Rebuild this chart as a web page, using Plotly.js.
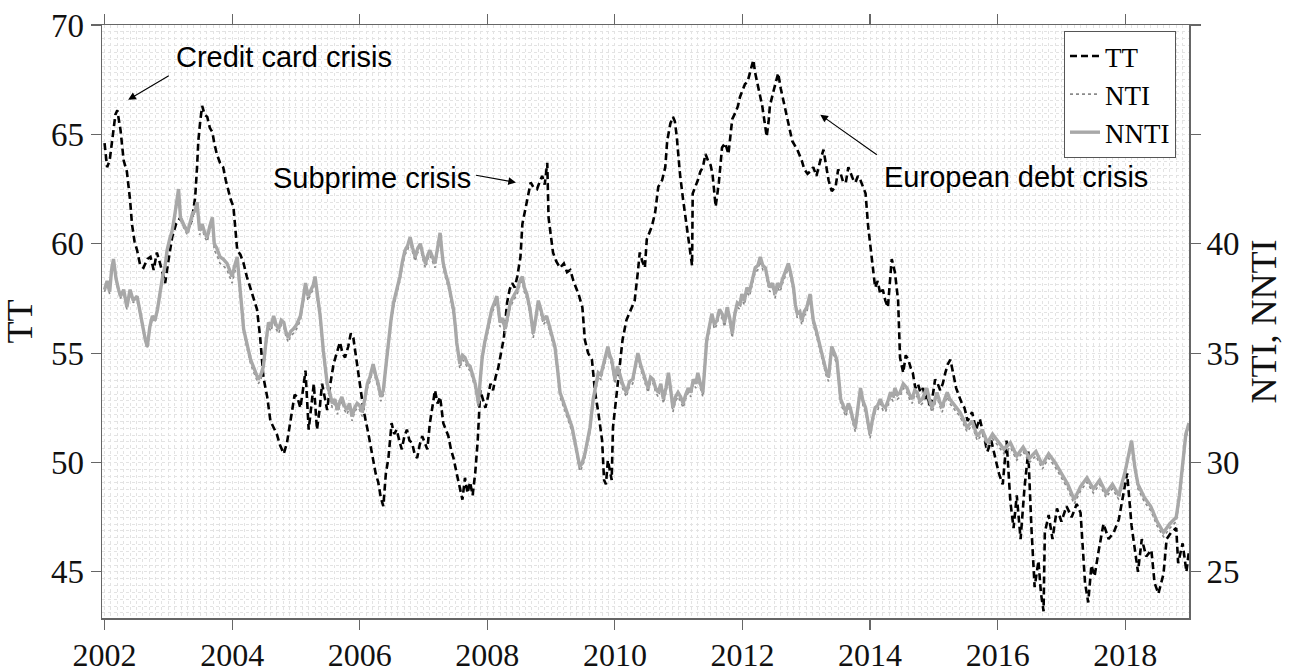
<!DOCTYPE html>
<html>
<head>
<meta charset="utf-8">
<script src="https://cdn.plot.ly/plotly-3.0.1.min.js"></script>
<style>
  html, body { margin: 0; padding: 0; background: #fff; }
  #chart { width: 1298px; height: 672px; }
</style>
</head>
<body>
<div id="chart"></div>
<script>
// TT index (left axis)
const ttYears = [
  2002.00,2002.04,2002.08,2002.12,2002.17,2002.20,2002.25,2002.30,2002.35,2002.40,
  2002.43,2002.47,2002.51,2002.56,2002.61,2002.67,2002.72,2002.77,2002.82,2002.87,
  2002.91,2002.95,2003.00,2003.06,2003.12,2003.19,2003.25,2003.30,2003.37,2003.42,
  2003.45,2003.47,2003.50,2003.53,2003.57,2003.61,2003.65,2003.69,2003.72,2003.76,
  2003.81,2003.86,2003.90,2003.94,2003.98,2004.02,2004.05,2004.08,2004.13,2004.18,
  2004.23,2004.28,2004.33,2004.39,2004.44,2004.49,2004.55,2004.60,2004.65,2004.70,
  2004.75,2004.81,2004.86,2004.90,2004.94,2004.98,2005.02,2005.07,2005.11,2005.15,
  2005.20,2005.24,2005.28,2005.33,2005.37,2005.41,2005.45,2005.49,2005.54,2005.59,
  2005.64,2005.69,2005.73,2005.77,2005.82,2005.86,2005.90,2005.96,2006.01,2006.06,
  2006.13,2006.17,2006.21,2006.25,2006.29,2006.33,2006.37,2006.41,2006.45,2006.50,
  2006.54,2006.58,2006.62,2006.66,2006.70,2006.74,2006.78,2006.82,2006.86,2006.90,
  2006.94,2006.98,2007.02,2007.06,2007.10,2007.14,2007.18,2007.22,2007.26,2007.31,
  2007.35,2007.39,2007.43,2007.47,2007.52,2007.57,2007.61,2007.65,2007.69,2007.73,
  2007.77,2007.81,2007.85,2007.89,2007.93,2007.97,2008.01,2008.05,2008.09,2008.13,
  2008.17,2008.20,2008.26,2008.31,2008.35,2008.39,2008.43,2008.47,2008.52,2008.55,
  2008.60,2008.64,2008.68,2008.72,2008.78,2008.83,2008.86,2008.90,2008.94,2008.96,
  2008.98,2009.03,2009.08,2009.14,2009.20,2009.25,2009.30,2009.35,2009.43,2009.49,
  2009.53,2009.58,2009.64,2009.69,2009.74,2009.80,2009.83,2009.86,2009.89,2009.95,
  2009.97,2010.03,2010.07,2010.12,2010.18,2010.26,2010.31,2010.36,2010.39,2010.43,
  2010.47,2010.50,2010.54,2010.58,2010.63,2010.68,2010.74,2010.79,2010.82,2010.87,
  2010.91,2010.94,2010.97,2011.02,2011.07,2011.13,2011.18,2011.21,2011.22,2011.26,
  2011.30,2011.34,2011.38,2011.42,2011.46,2011.50,2011.53,2011.58,2011.63,2011.68,
  2011.73,2011.78,2011.84,2011.89,2011.93,2011.96,2012.00,2012.04,2012.08,2012.12,
  2012.17,2012.20,2012.24,2012.28,2012.31,2012.35,2012.38,2012.41,2012.43,2012.48,
  2012.52,2012.56,2012.60,2012.64,2012.68,2012.72,2012.78,2012.82,2012.86,2012.93,
  2012.97,2013.02,2013.06,2013.11,2013.16,2013.22,2013.27,2013.31,2013.35,2013.40,
  2013.46,2013.50,2013.54,2013.58,2013.62,2013.66,2013.70,2013.74,2013.77,2013.81,
  2013.85,2013.89,2013.93,2013.97,2014.03,2014.08,2014.12,2014.16,2014.20,2014.24,
  2014.28,2014.31,2014.34,2014.39,2014.44,2014.47,2014.52,2014.56,2014.60,2014.64,
  2014.67,2014.71,2014.75,2014.79,2014.83,2014.87,2014.90,2014.94,2014.98,2015.02,
  2015.06,2015.10,2015.14,2015.18,2015.22,2015.26,2015.30,2015.35,2015.40,2015.44,
  2015.48,2015.53,2015.60,2015.66,2015.72,2015.78,2015.84,2015.90,2015.96,2016.02,
  2016.08,2016.14,2016.20,2016.25,2016.30,2016.36,2016.42,2016.48,2016.53,2016.58,
  2016.64,2016.68,2016.72,2016.74,2016.80,2016.86,2016.93,2017.00,2017.08,2017.16,
  2017.24,2017.30,2017.37,2017.42,2017.47,2017.52,2017.58,2017.66,2017.74,2017.82,
  2017.90,2017.96,2018.03,2018.10,2018.15,2018.20,2018.26,2018.33,2018.41,2018.46,
  2018.52,2018.60,2018.65,2018.72,2018.80,2018.83,2018.90,2018.96,2019.00
];
const ttValues = [
  64.6,63.5,63.8,64.8,65.9,66.1,65.2,63.8,63.3,62.0,
  60.9,60.1,59.7,59.0,58.9,59.3,59.4,58.8,59.6,59.1,
  58.7,58.2,59.2,60.3,60.9,61.2,60.8,60.6,61.1,62.1,
  63.5,64.7,65.6,66.3,65.9,65.8,65.3,65.1,64.6,64.1,
  63.7,63.5,62.9,62.4,62.0,61.7,60.6,59.7,59.5,59.1,
  58.5,58.0,57.6,57.0,55.7,53.9,53.0,51.9,51.6,51.3,
  50.8,50.4,50.9,51.6,52.4,53.1,53.0,52.5,53.3,54.2,
  51.5,52.6,53.6,51.5,52.4,53.6,53.0,52.4,53.6,54.5,
  55.0,55.5,55.0,54.8,55.3,55.9,55.7,54.5,53.6,52.4,
  51.4,50.8,50.2,49.5,49.1,48.4,48.0,49.5,50.2,51.8,
  51.3,51.5,51.0,50.6,51.2,51.5,51.0,50.9,50.4,50.2,
  50.8,51.2,50.9,50.6,51.8,52.6,53.3,52.7,53.0,51.8,
  51.5,51.2,50.6,50.2,49.5,48.9,48.3,49.3,48.6,49.1,
  48.5,49.5,51.0,53.3,52.9,52.5,53.0,53.6,53.3,53.9,
  54.3,54.8,55.7,57.3,57.9,58.2,58.0,58.5,59.4,60.9,
  61.7,62.3,62.8,62.6,62.5,62.9,63.1,62.7,63.7,61.2,
  60.8,59.6,59.2,58.9,59.1,58.7,58.8,58.3,57.7,57.1,
  55.6,55.0,54.7,53.2,52.3,51.0,49.2,49.0,50.1,49.2,
  51.6,53.3,54.4,55.6,56.5,57.1,57.4,58.7,59.6,59.2,
  58.9,60.2,60.5,60.8,61.4,62.6,62.9,63.5,64.7,65.5,
  65.8,65.6,64.9,63.2,62.0,60.8,59.6,59.0,62.3,62.6,
  62.9,63.3,63.5,64.1,63.8,63.6,63.2,61.7,62.8,64.4,
  64.6,64.1,65.7,66.0,66.3,66.7,67.0,67.3,67.4,67.8,
  68.4,67.8,67.3,66.8,66.3,65.5,64.9,65.6,66.3,66.9,
  67.4,67.8,67.1,66.6,66.0,65.5,64.7,64.5,64.3,63.8,
  63.4,63.2,63.3,63.5,63.1,63.8,64.3,63.6,62.9,62.4,
  62.6,63.4,63.2,62.8,62.8,63.5,63.2,62.9,62.8,63.1,
  62.9,62.6,62.3,60.8,59.3,58.0,58.3,57.7,57.9,57.4,
  57.1,58.1,59.3,58.7,57.4,54.8,54.1,54.9,54.7,54.3,
  54.1,53.4,53.6,53.2,53.4,52.9,53.1,52.5,53.0,53.8,
  53.6,53.3,53.6,54.1,54.5,54.7,54.1,53.4,53.0,52.7,
  52.5,51.9,52.3,51.5,52.0,51.2,50.5,51.0,50.2,49.5,
  49.0,51.0,48.2,47.0,48.5,46.5,48.8,50.5,47.0,44.3,
  45.5,44.0,43.2,46.8,47.6,46.5,47.9,47.3,48.0,47.5,
  48.1,47.7,44.5,43.6,45.3,44.8,45.9,47.2,46.5,46.8,
  47.4,48.4,49.5,47.1,46.0,45.0,46.5,45.7,46.0,44.5,
  44.0,44.9,46.5,46.8,47.0,45.4,46.3,45.0,46.0
];

// NNTI and NTI (right axis), sampled on the same dates
const nntiYears = [
  2002.00,2002.04,2002.08,2002.11,2002.14,2002.18,2002.22,2002.25,2002.30,2002.35,
  2002.40,2002.45,2002.51,2002.56,2002.61,2002.64,2002.67,2002.71,2002.75,2002.79,
  2002.83,2002.87,2002.91,2002.95,2002.98,2003.02,2003.06,2003.10,2003.13,2003.16,
  2003.19,2003.23,2003.27,2003.30,2003.34,2003.38,2003.42,2003.45,2003.49,2003.53,
  2003.57,2003.61,2003.65,2003.69,2003.72,2003.76,2003.81,2003.86,2003.92,2003.96,
  2004.00,2004.04,2004.08,2004.10,2004.13,2004.16,2004.18,2004.22,2004.25,2004.29,
  2004.33,2004.37,2004.41,2004.45,2004.49,2004.53,2004.57,2004.61,2004.65,2004.69,
  2004.73,2004.77,2004.81,2004.84,2004.88,2004.92,2004.96,2005.01,2005.07,2005.11,
  2005.15,2005.19,2005.23,2005.27,2005.30,2005.34,2005.38,2005.43,2005.46,2005.49,
  2005.53,2005.57,2005.61,2005.65,2005.69,2005.72,2005.76,2005.80,2005.84,2005.88,
  2005.92,2005.96,2006.00,2006.04,2006.08,2006.12,2006.16,2006.21,2006.25,2006.29,
  2006.33,2006.37,2006.41,2006.45,2006.49,2006.53,2006.58,2006.63,2006.67,2006.71,
  2006.75,2006.79,2006.83,2006.87,2006.91,2006.95,2006.99,2007.03,2007.07,2007.10,
  2007.14,2007.18,2007.22,2007.26,2007.29,2007.31,2007.35,2007.39,2007.43,2007.47,
  2007.50,2007.52,2007.57,2007.61,2007.65,2007.69,2007.73,2007.77,2007.81,2007.84,
  2007.86,2007.89,2007.92,2007.96,2008.00,2008.04,2008.07,2008.11,2008.15,2008.20,
  2008.24,2008.28,2008.32,2008.36,2008.41,2008.47,2008.51,2008.55,2008.58,2008.62,
  2008.67,2008.72,2008.76,2008.80,2008.84,2008.88,2008.93,2008.98,2009.02,2009.06,
  2009.10,2009.14,2009.20,2009.25,2009.29,2009.33,2009.37,2009.41,2009.45,2009.49,
  2009.53,2009.57,2009.61,2009.66,2009.70,2009.74,2009.78,2009.81,2009.85,2009.89,
  2009.92,2009.95,2010.00,2010.04,2010.07,2010.12,2010.18,2010.23,2010.28,2010.32,
  2010.36,2010.40,2010.44,2010.48,2010.52,2010.56,2010.60,2010.64,2010.68,2010.72,
  2010.76,2010.80,2010.84,2010.88,2010.91,2010.95,2010.99,2011.03,2011.07,2011.11,
  2011.15,2011.19,2011.23,2011.27,2011.30,2011.34,2011.38,2011.41,2011.44,2011.48,
  2011.52,2011.56,2011.60,2011.64,2011.68,2011.72,2011.76,2011.80,2011.84,2011.88,
  2011.92,2011.96,2011.99,2012.03,2012.07,2012.11,2012.15,2012.20,2012.24,2012.28,
  2012.32,2012.36,2012.40,2012.43,2012.47,2012.51,2012.55,2012.59,2012.63,2012.67,
  2012.72,2012.76,2012.80,2012.83,2012.86,2012.90,2012.93,2012.97,2013.01,2013.06,
  2013.09,2013.11,2013.15,2013.19,2013.23,2013.27,2013.31,2013.35,2013.40,2013.44,
  2013.48,2013.51,2013.54,2013.58,2013.62,2013.66,2013.69,2013.73,2013.77,2013.81,
  2013.85,2013.89,2013.93,2013.97,2014.00,2014.04,2014.08,2014.12,2014.16,2014.20,
  2014.24,2014.28,2014.32,2014.36,2014.39,2014.43,2014.47,2014.52,2014.58,2014.62,
  2014.66,2014.70,2014.74,2014.78,2014.82,2014.86,2014.89,2014.93,2014.97,2015.01,
  2015.05,2015.09,2015.13,2015.17,2015.21,2015.25,2015.30,2015.35,2015.41,2015.46,
  2015.52,2015.60,2015.68,2015.76,2015.84,2015.92,2016.00,2016.10,2016.20,2016.30,
  2016.40,2016.50,2016.60,2016.70,2016.80,2016.90,2017.00,2017.10,2017.20,2017.30,
  2017.40,2017.50,2017.60,2017.70,2017.80,2017.90,2018.00,2018.05,2018.10,2018.15,
  2018.20,2018.30,2018.40,2018.50,2018.60,2018.70,2018.80,2018.85,2018.90,2018.95,
  2019.00
];
const nntiValues = [
  37.9,38.3,37.8,38.8,39.3,38.4,37.9,37.6,37.9,37.1,
  37.9,37.4,37.6,36.8,36.1,35.6,35.3,36.2,36.7,36.5,
  37.0,37.8,38.5,39.0,39.7,40.2,40.6,41.3,41.8,42.5,
  41.2,40.9,40.7,40.5,40.9,41.4,41.5,41.9,40.6,40.9,
  40.5,40.3,40.8,41.2,40.0,39.8,39.4,39.3,39.1,38.8,
  38.5,39.0,39.4,38.7,37.9,36.8,36.1,35.6,35.1,34.7,
  34.4,34.1,33.8,34.0,34.4,35.5,36.4,36.2,36.7,36.3,
  36.1,36.5,36.4,36.0,35.7,36.0,36.1,36.3,36.7,37.4,
  38.2,37.6,37.9,38.1,38.5,37.5,36.7,35.1,34.3,33.6,
  33.2,32.7,32.9,32.4,32.8,33.0,32.6,32.4,32.7,32.1,
  32.5,32.7,32.6,32.3,32.9,33.6,33.9,34.5,34.0,33.6,
  33.0,33.3,34.4,35.5,36.5,37.3,37.9,38.5,39.2,39.7,
  39.9,40.3,39.8,39.4,39.8,40.0,39.5,39.1,39.5,39.7,
  39.4,39.1,39.8,40.5,39.6,39.1,38.6,38.2,37.6,37.0,
  36.2,35.5,34.5,34.9,34.8,34.5,34.4,34.0,33.6,33.1,
  32.7,33.8,34.8,35.5,36.1,36.6,37.0,37.3,37.6,36.4,
  36.6,36.1,36.8,37.3,37.6,37.9,38.3,38.5,38.0,37.7,
  37.0,35.9,36.6,37.4,37.0,36.5,36.7,36.2,35.8,35.3,
  34.3,33.2,32.7,32.3,32.0,31.6,31.0,30.4,29.8,30.0,
  30.4,31.0,31.6,32.9,33.6,34.1,34.0,34.4,34.8,35.3,
  34.9,34.7,33.8,34.4,34.1,33.6,33.2,33.7,33.8,34.4,
  35.0,34.5,34.1,33.8,33.4,33.9,33.8,33.4,33.2,33.6,
  32.9,33.4,34.1,33.2,32.5,33.0,33.2,33.0,32.7,33.1,
  33.4,33.2,33.8,33.6,34.1,33.6,33.2,34.4,35.6,36.2,
  36.8,36.3,36.5,37.0,36.8,36.4,37.1,36.6,35.9,36.8,
  37.3,37.2,37.7,37.4,38.0,37.8,38.3,38.9,39.0,39.4,
  39.0,38.9,38.3,38.0,38.2,37.7,38.2,38.0,38.4,38.7,
  39.1,38.6,38.0,37.2,36.8,36.9,36.5,36.9,37.1,37.7,
  37.0,36.5,36.1,35.6,35.2,34.7,34.2,33.9,35.3,35.0,
  34.7,33.8,32.9,32.6,32.3,32.7,32.5,32.0,31.6,32.5,
  33.4,32.8,32.5,31.8,31.3,32.0,32.5,32.6,32.9,32.6,
  32.5,32.8,33.2,33.0,33.4,33.1,33.2,33.6,33.4,33.1,
  32.9,33.3,33.2,32.8,32.9,33.2,33.4,32.9,32.5,32.8,
  33.2,32.8,32.5,32.9,33.2,32.9,32.7,32.5,32.3,32.0,
  31.6,31.9,31.2,31.5,30.9,31.3,31.0,30.6,30.9,30.3,
  30.7,30.2,30.5,29.9,30.4,30.0,29.5,29.0,28.3,28.9,
  29.3,28.8,29.2,28.6,29.0,28.5,29.6,30.4,31.0,29.8,
  29.0,28.4,28.0,27.3,26.8,27.2,27.5,28.5,29.8,31.3,
  31.8
];
const ntiValues = [
  37.8,38.2,37.7,38.7,39.2,38.3,37.8,37.5,37.8,37.0,
  37.8,37.3,37.5,36.7,36.0,35.5,35.2,36.1,36.6,36.4,
  36.9,37.7,38.4,38.9,39.6,40.1,40.5,41.2,41.7,42.4,
  41.1,40.8,40.6,40.4,40.8,41.3,41.4,41.8,40.4,40.7,
  40.3,40.1,40.6,41.0,39.7,39.5,39.1,39.0,38.8,38.5,
  38.2,38.7,39.1,38.4,37.6,36.6,35.9,35.4,34.9,34.5,
  34.2,33.9,33.6,33.8,34.2,35.3,36.2,36.0,36.5,36.1,
  35.9,36.3,36.2,35.8,35.5,35.8,35.9,36.1,36.5,37.2,
  38.0,37.4,37.7,37.9,38.3,37.3,36.5,34.9,34.1,33.4,
  33.0,32.5,32.7,32.2,32.6,32.8,32.4,32.2,32.5,31.9,
  32.3,32.5,32.4,32.1,32.7,33.4,33.7,34.3,33.8,33.4,
  32.8,33.1,34.2,35.3,36.3,37.1,37.7,38.3,39.0,39.5,
  39.7,40.1,39.6,39.2,39.6,39.8,39.3,38.9,39.3,39.5,
  39.2,38.9,39.6,40.3,39.4,38.9,38.4,38.0,37.4,36.8,
  36.0,35.3,34.3,34.7,34.6,34.3,34.2,33.8,33.4,32.9,
  32.5,33.6,34.6,35.3,35.9,36.4,36.8,37.1,37.4,36.2,
  36.4,35.9,36.6,37.1,37.4,37.7,38.1,38.3,37.8,37.5,
  36.8,35.7,36.4,37.2,36.8,36.3,36.5,36.0,35.6,35.1,
  34.1,33.0,32.5,32.1,31.8,31.4,30.8,30.2,29.6,29.8,
  30.2,30.8,31.4,32.7,33.4,33.9,33.8,34.2,34.6,35.1,
  34.7,34.5,33.6,34.2,33.9,33.4,33.0,33.5,33.6,34.2,
  34.8,34.3,33.9,33.6,33.2,33.7,33.6,33.2,33.0,33.4,
  32.7,33.2,33.9,33.0,32.3,32.8,33.0,32.8,32.5,32.9,
  33.2,33.0,33.6,33.4,33.9,33.4,33.0,34.2,35.4,36.0,
  36.6,36.1,36.3,36.8,36.6,36.2,36.9,36.4,35.7,36.6,
  37.1,37.0,37.5,37.2,37.8,37.6,38.1,38.7,38.8,39.2,
  38.8,38.7,38.1,37.8,38.0,37.5,38.0,37.8,38.2,38.5,
  38.9,38.4,37.8,37.0,36.6,36.7,36.3,36.7,36.9,37.5,
  36.8,36.3,35.9,35.4,35.0,34.5,34.0,33.7,35.1,34.8,
  34.5,33.6,32.7,32.4,32.1,32.5,32.3,31.8,31.4,32.3,
  33.2,32.6,32.3,31.6,31.1,31.8,32.3,32.4,32.7,32.4,
  32.3,32.6,33.0,32.8,33.2,32.9,33.0,33.4,33.2,32.9,
  32.7,33.1,33.0,32.6,32.7,33.0,33.2,32.7,32.3,32.6,
  33.0,32.6,32.3,32.7,33.0,32.7,32.5,32.3,32.1,31.8,
  31.4,31.7,31.0,31.3,30.7,31.1,30.8,30.4,30.7,30.1,
  30.5,30.0,30.3,29.7,30.2,29.8,29.3,28.8,28.1,28.7,
  29.1,28.6,29.0,28.4,28.8,28.3,29.4,30.2,30.8,29.6,
  28.8,28.2,27.8,27.1,26.6,27.0,27.3,28.3,29.6,31.1,
  31.6
];

const seriesNames = ['TT', 'NTI', 'NNTI'];
const leftTicks = [45, 50, 55, 60, 65, 70];
const rightTicks = [25, 30, 35, 40];
const yearTicks = [2002, 2004, 2006, 2008, 2010, 2012, 2014, 2016, 2018];

// Event labels: [text, label x, label y, arrow tail x, tail y, arrow head x, head y]
const eventLabels = [
  ['Credit card crisis',   2004.82, 68.55, 2003.03, 67.72, 2002.37, 66.58],
  ['Subprime crisis',      2006.20, 63.00, 2007.80, 63.14, 2008.45, 62.80],
  ['European debt crisis', 2016.29, 63.05, 2014.13, 64.02, 2013.22, 65.90]
];

const serif = 'Liberation Serif, Times New Roman, serif';
const sans = 'Liberation Sans, Arial, sans-serif';

// gray series first so the dashed TT line sits on top
const traces = [
  {
    x: nntiYears, y: ntiValues, name: seriesNames[1], yaxis: 'y2', legendrank: 2,
    type: 'scatter', mode: 'lines',
    line: { color: '#8a8a8a', width: 1.6, dash: 'dot' }
  },
  {
    x: nntiYears, y: nntiValues, name: seriesNames[2], yaxis: 'y2', legendrank: 3,
    type: 'scatter', mode: 'lines',
    line: { color: '#a8a8a8', width: 3.4 }
  },
  {
    x: ttYears, y: ttValues, name: seriesNames[0], yaxis: 'y', legendrank: 1,
    type: 'scatter', mode: 'lines',
    line: { color: '#000000', width: 2.6, dash: '7px,4px' }
  }
];

const annotations = [];
eventLabels.forEach(function (e) {
  annotations.push({
    text: e[0], x: e[1], y: e[2], xref: 'x', yref: 'y',
    showarrow: false, xanchor: 'center', yanchor: 'middle',
    font: { family: sans, size: 29, color: '#000' }
  });
  annotations.push({
    text: '', x: e[5], y: e[6], xref: 'x', yref: 'y',
    ax: e[3], ay: e[4], axref: 'x', ayref: 'y',
    showarrow: true, arrowhead: 2, arrowsize: 1.4, arrowwidth: 1.1,
    arrowcolor: '#000'
  });
});

const gridDot = '#e3e3e3';

const layout = {
  width: 1298, height: 672,
  margin: { l: 102, r: 109, t: 25, b: 54 },
  paper_bgcolor: '#ffffff', plot_bgcolor: '#ffffff',
  font: { family: serif, color: '#111' },
  showlegend: true,
  legend: {
    x: 0.885, y: 0.99, xanchor: 'left', yanchor: 'top',
    bgcolor: '#ffffff', bordercolor: '#555', borderwidth: 1,
    font: { family: serif, size: 27, color: '#000' },
    traceorder: 'normal',
    itemwidth: 30
  },
  xaxis: {
    range: [2001.96, 2019.0],
    tickvals: yearTicks, ticktext: yearTicks.map(String),
    ticks: 'outside', ticklen: 10, tickwidth: 1.2, tickcolor: '#666',
    ticklabelstandoff: -2,
    showline: true, linecolor: '#666', linewidth: 1.5, mirror: 'ticks',
    showgrid: true, gridcolor: gridDot, griddash: 'dot', gridwidth: 1,
    minor: { dtick: 0.1, tick0: 2002, showgrid: true, gridcolor: gridDot, griddash: 'dot', gridwidth: 1 },
    zeroline: false,
    tickfont: { family: serif, size: 32, color: '#111' }
  },
  yaxis: {
    range: [42.89, 70],
    tickvals: leftTicks, ticktext: leftTicks.map(String),
    ticks: 'outside', ticklen: 10, tickwidth: 1.2, tickcolor: '#666',
    showline: true, linecolor: '#666', linewidth: 1.5, mirror: 'ticks',
    showgrid: true, gridcolor: gridDot, griddash: 'dot', gridwidth: 1,
    minor: { dtick: 0.3125, tick0: 45, showgrid: true, gridcolor: gridDot, griddash: 'dot', gridwidth: 1 },
    zeroline: false,
    tickfont: { family: serif, size: 33, color: '#111' },
    title: { text: 'TT', font: { family: serif, size: 36, color: '#111' }, standoff: 16 }
  },
  yaxis2: {
    overlaying: 'y', side: 'right',
    range: [22.89, 50],
    tickvals: rightTicks, ticktext: rightTicks.map(String),
    ticks: 'outside', ticklen: 10, tickwidth: 1.2, tickcolor: '#666',
    showline: false, showgrid: false, zeroline: false,
    tickfont: { family: serif, size: 33, color: '#111' },
    title: { text: 'NTI, NNTI', font: { family: serif, size: 36, color: '#111' }, standoff: 12 }
  },
  annotations: annotations
};

Plotly.newPlot('chart', traces, layout, { displayModeBar: false, staticPlot: true });
</script>
</body>
</html>
